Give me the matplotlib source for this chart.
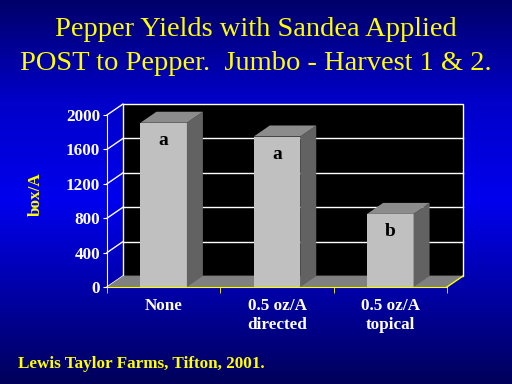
import numpy as np
import matplotlib.pyplot as plt
from matplotlib.patches import Polygon

# data
categories = ["None", "0.5 oz/A\ndirected", "0.5 oz/A\ntopical"]
yields = [1910, 1750, 850]
letters = ["a", "a", "b"]
yticks = [0, 400, 800, 1200, 1600, 2000]

plt.rcParams['font.family'] = ['Liberation Serif', 'DejaVu Serif']

fig = plt.figure(figsize=(5.12, 3.84), dpi=100)

# blue background: dark at top and bottom, bright in the middle
bg = fig.add_axes([0, 0, 1, 1], zorder=-10)
rows = np.linspace(0, 384, 384)
blue = np.interp(rows, [0, 100, 200, 300, 384], [105, 200, 238, 160, 90]) / 255
img = np.zeros((384, 1, 3))
img[:, 0, 2] = blue
bg.imshow(img, aspect='auto', extent=[0, 1, 0, 1])
bg.axis('off')

ax = fig.add_axes([107 / 512, 97 / 384, 340 / 512, 172 / 384])
ax.set_facecolor('none')
x = np.arange(len(categories))
x0, x1 = -0.5, 2.5
ymax = 2000
ax.set_xlim(x0, x1)
ax.set_ylim(0, ymax)

# 3D depth offsets in data units
ddx = 16 / 340 * (x1 - x0)
ddy = 11 / 172 * ymax

# back wall
ax.add_patch(Polygon([(x0 + ddx, ddy), (x1 + ddx, ddy), (x1 + ddx, ymax + ddy), (x0 + ddx, ymax + ddy)],
                     closed=True, facecolor='black', edgecolor='white', lw=1, clip_on=False, zorder=0))
for v in yticks[1:-1]:
    ax.plot([x0 + ddx, x1 + ddx], [v + ddy, v + ddy], color='white', lw=1, clip_on=False, zorder=1)
# left wall lines
for v in yticks:
    ax.plot([x0, x0 + ddx], [v, v + ddy], color='white', lw=1, clip_on=False, zorder=1)

# floor
ax.add_patch(Polygon([(x0, 0), (x1, 0), (x1 + ddx, ddy), (x0 + ddx, ddy)],
                     closed=True, facecolor='#808080', edgecolor='none', clip_on=False, zorder=1))
ax.plot([x1, x1 + ddx], [0, ddy], color='yellow', lw=1, clip_on=False, zorder=2)

# bars
w = 0.41
ax.bar(x, yields, width=w, color='#C0C0C0', zorder=3)
for xi, v, lab in zip(x, yields, letters):
    xl, xr = xi - w / 2, xi + w / 2
    ax.add_patch(Polygon([(xr, 0), (xr + ddx, ddy), (xr + ddx, v + ddy), (xr, v)],
                         closed=True, facecolor='#626262', edgecolor='none', clip_on=False, zorder=3))
    ax.add_patch(Polygon([(xl, v), (xr, v), (xr + ddx, v + ddy), (xl + ddx, v + ddy)],
                         closed=True, facecolor='#8C8C8C', edgecolor='none', clip_on=False, zorder=3))
    ax.annotate(lab, (xi, v), xytext=(0, -18), textcoords='offset pixels', ha='center', va='center',
                fontsize=14, fontweight='bold', color='black', zorder=4)

# axes styling
for s in ['top', 'right']:
    ax.spines[s].set_visible(False)
ax.spines['left'].set_color('white')
ax.spines['bottom'].set_color('yellow')
ax.spines['left'].set_zorder(5)
ax.spines['bottom'].set_zorder(5)
ax.set_yticks(yticks)
ax.set_yticklabels([str(t) for t in yticks])
ax.tick_params(axis='y', colors='white', labelsize=12.3, length=3, pad=2)
for t in ax.get_yticklabels():
    t.set_fontweight('bold')
ax.set_xticks(x)
ax.set_xticklabels(categories, fontsize=12.3, fontweight='bold', color='white', linespacing=1.25)
ax.tick_params(axis='x', length=0, pad=8)
ax.set_xticks([-0.5, 0.5, 1.5, 2.5], minor=True)
ax.tick_params(axis='x', which='minor', colors='yellow', length=4)
ax.set_ylabel('box/A', color='yellow', fontsize=12.3, fontweight='bold')
ax.yaxis.set_label_coords((44 - 107) / 340, (287 - 194) / 172)

# titles
fig.text(0.5, 1 - 29 / 384, 'Pepper Yields with Sandea Applied', color='yellow', fontsize=20.5,
         ha='center', va='center')
fig.text(0.5, 1 - 63 / 384, 'POST to Pepper.  Jumbo - Harvest 1 & 2.', color='yellow', fontsize=20.5,
         ha='center', va='center')
fig.text(18 / 512, 1 - 364 / 384, 'Lewis Taylor Farms, Tifton, 2001.', color='yellow', fontsize=12.3,
         fontweight='bold', ha='left', va='center')

fig.savefig('out.png', dpi=100)
